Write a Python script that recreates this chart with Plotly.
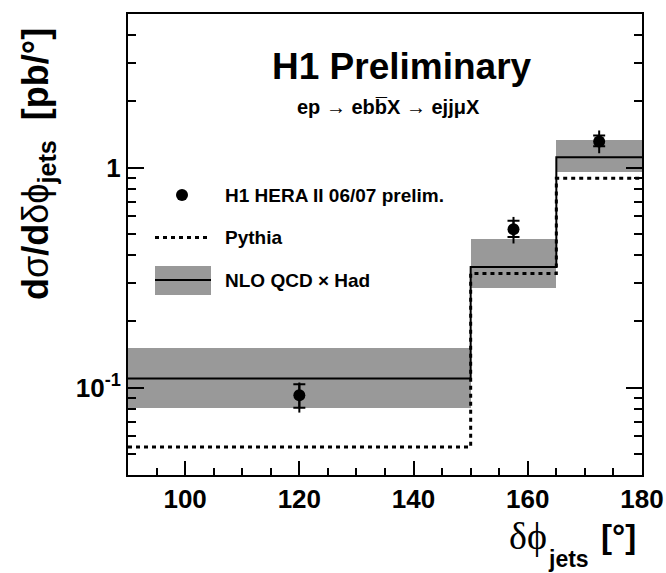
import plotly.graph_objects as go
import numpy as np

# ---------------- data ----------------
bin_edges = [90, 150, 165, 180]
nlo_central = [0.110, 0.353, 1.115]
nlo_high = [0.152, 0.476, 1.34]
nlo_low = [0.0805, 0.283, 0.96]
pythia = [0.0536, 0.330, 0.895]
data_y = [0.0923, 0.525, 1.315]
stat_high = [0.1036, 0.573, 1.40]
stat_low = [0.081, 0.484, 1.25]
tot_high = [0.1054, 0.597, 1.476]
tot_low = [0.0769, 0.452, 1.163]

x_ticks = [100, 120, 140, 160, 180]
y_ticks = [0.1, 1]
y_ticklabels = ["10<sup>-1</sup>", "1"]
y_minor = [0.05, 0.06, 0.07, 0.08, 0.09, 0.2, 0.3, 0.4, 0.5, 0.6, 0.7, 0.8, 0.9, 2, 3, 4]
x_minor = [95, 105, 110, 115, 125, 130, 135, 145, 150, 155, 165, 170, 175]

SANS = "Liberation Sans, Arial, Helvetica, sans-serif"
SERIF = "Liberation Serif, Times New Roman, serif"
GRAY = "rgb(153,153,153)"

# plot frame in pixels
L, R, T, B = 128, 642, 14, 475
def px(x):
    return (x - L) / (R - L)
def py(y):
    return (B - y) / (B - T)

edges = np.array(bin_edges, dtype=float)
centers = (edges[:-1] + edges[1:]) / 2
widths = edges[1:] - edges[:-1]

fig = go.Figure()

# NLO uncertainty band
fig.add_trace(go.Bar(
    x=centers, width=widths,
    base=nlo_low, y=np.array(nlo_high) - np.array(nlo_low),
    marker=dict(color=GRAY, line=dict(width=0)),
    showlegend=False, hoverinfo="skip",
))

# NLO central step
fig.add_trace(go.Scatter(
    x=edges, y=nlo_central + [nlo_central[-1]],
    mode="lines", line=dict(color="black", width=2, shape="hv"),
    showlegend=False,
))

# Pythia step
fig.add_trace(go.Scatter(
    x=edges, y=pythia + [pythia[-1]],
    mode="lines", line=dict(color="black", width=3, shape="hv", dash="4px,4px"),
    showlegend=False,
))

dy = np.array(data_y)
# total errors (no caps)
fig.add_trace(go.Scatter(
    x=centers, y=dy, mode="markers",
    marker=dict(color="black", size=1),
    error_y=dict(type="data", symmetric=False,
                 array=np.array(tot_high) - dy, arrayminus=dy - np.array(tot_low),
                 color="black", thickness=2, width=0),
    showlegend=False,
))
# statistical errors (with caps) + markers
fig.add_trace(go.Scatter(
    x=centers, y=dy, mode="markers",
    marker=dict(color="black", size=12, symbol="circle"),
    error_y=dict(type="data", symmetric=False,
                 array=np.array(stat_high) - dy, arrayminus=dy - np.array(stat_low),
                 color="black", thickness=2, width=6),
    showlegend=False,
))

shapes = []
annotations = []

# legend
shapes.append(dict(type="circle", xref="paper", yref="paper",
                   x0=px(176), x1=px(188), y0=py(201), y1=py(189),
                   fillcolor="black", line=dict(color="black", width=0)))
shapes.append(dict(type="line", xref="paper", yref="paper",
                   x0=px(155), x1=px(211), y0=py(237.5), y1=py(237.5),
                   line=dict(color="black", width=3, dash="4px,4px")))
shapes.append(dict(type="rect", xref="paper", yref="paper",
                   x0=px(155), x1=px(211), y0=py(295), y1=py(266),
                   fillcolor=GRAY, line=dict(width=0)))
shapes.append(dict(type="line", xref="paper", yref="paper",
                   x0=px(155), x1=px(211), y0=py(280), y1=py(280),
                   line=dict(color="black", width=2)))

leg_font = dict(family=SANS, size=19, color="black", weight="bold")
for txt, yy in [("H1 HERA II 06/07 prelim.", 195), ("Pythia", 237.5), ("NLO QCD × Had", 280)]:
    annotations.append(dict(text=txt, xref="paper", yref="paper", x=px(223), y=py(yy),
                            xanchor="left", yanchor="middle", showarrow=False, font=leg_font))

# titles
annotations.append(dict(text="H1 Preliminary", xref="paper", yref="paper",
                        x=px(402), y=py(66), xanchor="center", yanchor="middle",
                        showarrow=False,
                        font=dict(family=SANS, size=37, color="black", weight="bold")))
annotations.append(dict(text="ep → ebb\u0305X → ejjμX", xref="paper", yref="paper",
                        x=px(388), y=py(107), xanchor="center", yanchor="middle",
                        showarrow=False,
                        font=dict(family=SANS, size=20, color="black", weight="bold")))

# x axis title (three pieces)
annotations.append(dict(
    text="δϕ", xref="paper", yref="paper", x=px(507), y=py(536),
    xanchor="left", yanchor="middle", showarrow=False,
    font=dict(family=SERIF, size=38, color="black")))
annotations.append(dict(
    text="jets", xref="paper", yref="paper", x=px(546), y=py(559),
    xanchor="left", yanchor="middle", showarrow=False,
    font=dict(family=SANS, size=23, color="black", weight="bold")))
annotations.append(dict(
    text="[°]", xref="paper", yref="paper", x=px(638), y=py(536),
    xanchor="right", yanchor="middle", showarrow=False,
    font=dict(family=SANS, size=33, color="black", weight="bold")))

# y axis title
annotations.append(dict(
    text='<b>d</b>σ<b>/d</b>δϕ<b><sub>jets</sub>  [pb/°]</b>',
    xref="paper", yref="paper", x=px(38), y=py(164), xanchor="center", yanchor="middle",
    textangle=-90, showarrow=False,
    font=dict(family=SANS, size=36, color="black")))

fig.update_layout(
    width=666, height=573,
    margin=dict(l=L, r=666 - R, t=T, b=573 - B, autoexpand=False),
    paper_bgcolor="white", plot_bgcolor="white",
    bargap=0, showlegend=False,
    shapes=shapes, annotations=annotations,
    font=dict(family=SANS, color="black"),
)

fig.update_xaxes(
    range=[90, 180], showgrid=False, zeroline=False, automargin=False,
    showline=True, linecolor="black", linewidth=2, mirror=True,
    ticks="inside", ticklen=14, tickwidth=2, tickcolor="black",
    tickmode="array", tickvals=x_ticks,
    tickfont=dict(family=SANS, size=26, color="black", weight="bold"),
    minor=dict(ticks="inside", ticklen=7, tickwidth=2, tickcolor="black",
               tickmode="array", tickvals=x_minor, showgrid=False),
)
fig.update_yaxes(
    type="log", range=[np.log10(0.04), np.log10(5)], showgrid=False, zeroline=False,
    automargin=False,
    showline=True, linecolor="black", linewidth=2, mirror="ticks",
    ticks="inside", ticklen=16, tickwidth=2, tickcolor="black",
    tickmode="array", tickvals=y_ticks, ticktext=y_ticklabels,
    tickfont=dict(family=SANS, size=26, color="black", weight="bold"),
    minor=dict(ticks="inside", ticklen=8, tickwidth=2, tickcolor="black",
               tickmode="array", tickvals=y_minor, showgrid=False),
)

fig.write_html("out.html")
